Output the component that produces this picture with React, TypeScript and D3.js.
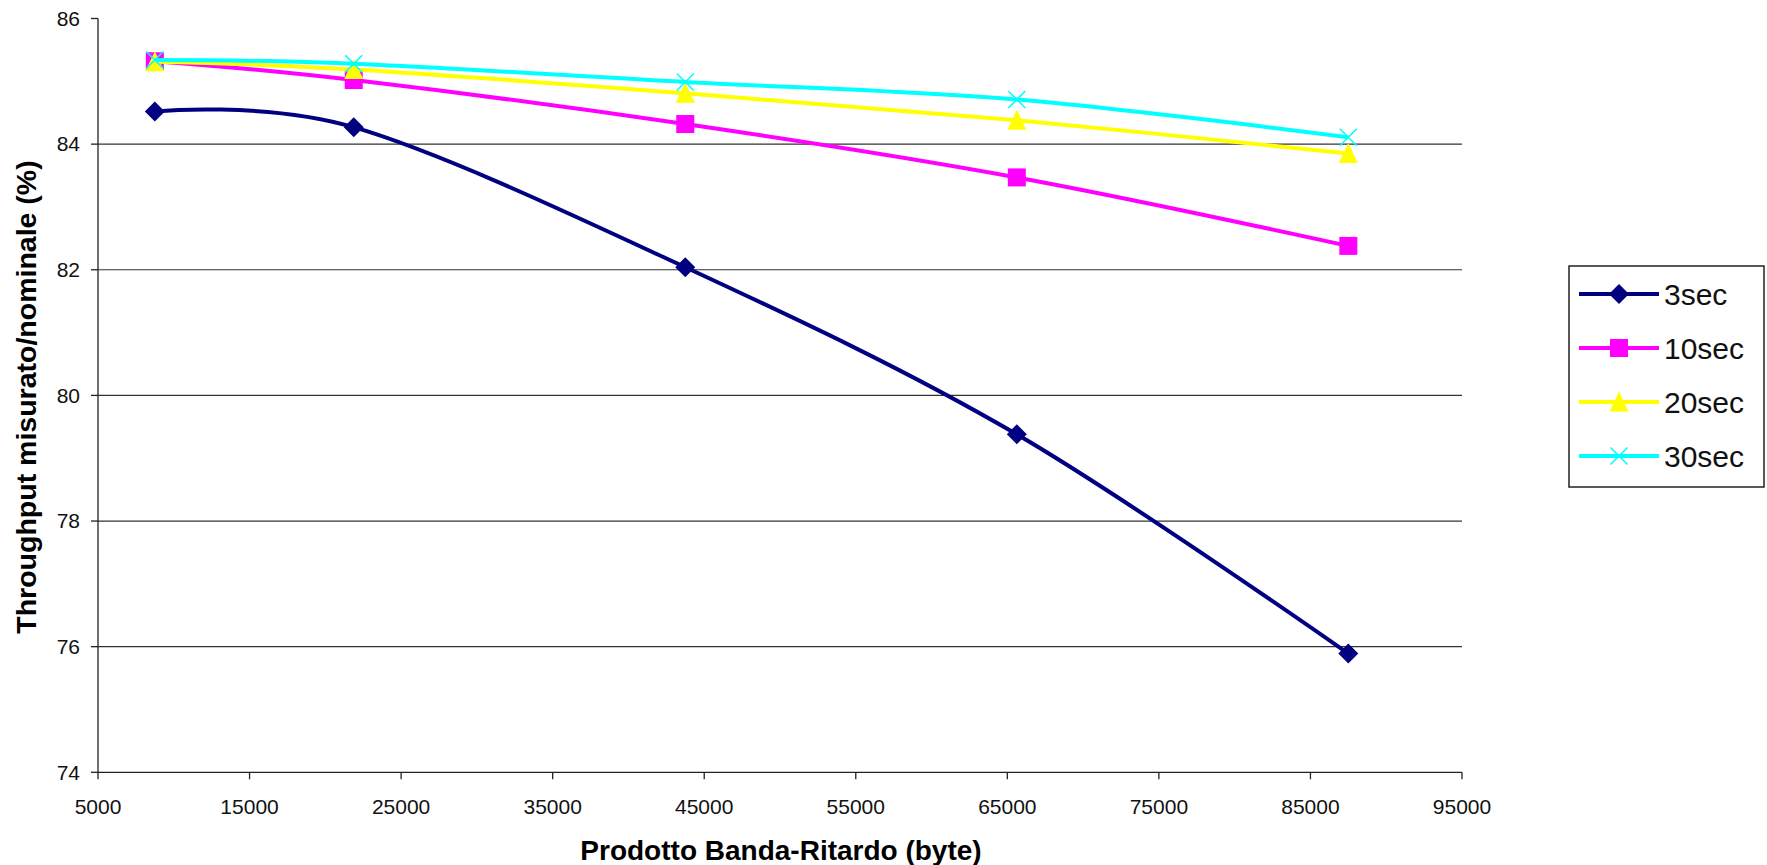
import React from "react";
import * as d3 from "d3";

const xValues = [8750, 21875, 43750, 65625, 87500];
const seriesNames = ["3sec", "10sec", "20sec", "30sec"];
const values3sec = [84.52, 84.27, 82.04, 79.38, 75.89];
const values10sec = [85.32, 85.02, 84.32, 83.47, 82.38];
const values20sec = [85.31, 85.19, 84.81, 84.38, 83.85];
const values30sec = [85.34, 85.28, 84.99, 84.71, 84.11];
const xTicks = [5000, 15000, 25000, 35000, 45000, 55000, 65000, 75000, 85000, 95000];
const yTicks = [74, 76, 78, 80, 82, 84, 86];
const colors = ["#000080", "#FF00FF", "#FFFF00", "#00FFFF"];
const markers = ["diamond", "square", "triangle", "x"];

const W = 1767;
const H = 865;
const FONT = "'Liberation Sans', Arial, sans-serif";

function Marker({ type, cx, cy, color }: { type: string; cx: number; cy: number; color: string }) {
  if (type === "diamond") {
    const r = 10;
    return <path d={`M${cx},${cy - r}L${cx + r},${cy}L${cx},${cy + r}L${cx - r},${cy}Z`} fill={color} />;
  }
  if (type === "square") {
    const s = 18;
    return <rect x={cx - s / 2} y={cy - s / 2} width={s} height={s} fill={color} />;
  }
  if (type === "triangle") {
    const s = 19;
    return <path d={`M${cx},${cy - s / 2 - 1}L${cx + s / 2},${cy + s / 2}L${cx - s / 2},${cy + s / 2}Z`} fill={color} />;
  }
  const r = 8.5;
  return (
    <path
      d={`M${cx - r},${cy - r}L${cx + r},${cy + r}M${cx + r},${cy - r}L${cx - r},${cy + r}`}
      stroke={color}
      strokeWidth={1.6}
      fill="none"
    />
  );
}

export default function App() {
  const x = d3.scaleLinear().domain([5000, 95000]).range([98, 1462]);
  const y = d3.scaleLinear().domain([74, 86]).range([772.3, 18.5]);
  const allSeries = [values3sec, values10sec, values20sec, values30sec];
  const line = d3
    .line<number>()
    .x((_, i) => x(xValues[i]))
    .y((d) => y(d))
    .curve(d3.curveCardinal.tension(0));

  const legendX = 1569;
  const legendY = 266;
  const legendW = 195;
  const legendH = 221;
  const rowY = [294, 348, 402, 456];

  return (
    <svg
      width={W}
      height={H}
      style={{ position: "absolute", left: 0, top: 0, background: "#fff" }}
      fontFamily={FONT}
    >
      <rect x={0} y={0} width={W} height={H} fill="#fff" />
      {/* gridlines */}
      {yTicks
        .filter((t) => t !== 74 && t !== 86)
        .map((t) => (
          <line key={"g" + t} x1={x(5000)} x2={x(95000)} y1={y(t)} y2={y(t)} stroke="#333" strokeWidth={1.2} />
        ))}
      {/* axes */}
      <line x1={x(5000)} x2={x(5000)} y1={y(86)} y2={y(74)} stroke="#222" strokeWidth={1.3} />
      <line x1={x(5000)} x2={x(95000)} y1={y(74)} y2={y(74)} stroke="#222" strokeWidth={1.3} />
      {yTicks.map((t) => (
        <g key={"yt" + t}>
          <line x1={x(5000) - 7} x2={x(5000)} y1={y(t)} y2={y(t)} stroke="#222" strokeWidth={1.3} />
          <text x={80} y={y(t)} dy="0.35em" textAnchor="end" fontSize={21} fill="#111">
            {t}
          </text>
        </g>
      ))}
      {xTicks.map((t) => (
        <g key={"xt" + t}>
          <line x1={x(t)} x2={x(t)} y1={y(74)} y2={y(74) + 7} stroke="#222" strokeWidth={1.3} />
          <text x={x(t)} y={814} textAnchor="middle" fontSize={21} fill="#111">
            {t}
          </text>
        </g>
      ))}
      {/* axis titles */}
      <text x={781} y={860} textAnchor="middle" fontSize={28} fontWeight="bold" fill="#000">
        Prodotto Banda-Ritardo (byte)
      </text>
      <text
        transform={`translate(36,397) rotate(-90)`}
        textAnchor="middle"
        fontSize={28.5}
        fontWeight="bold"
        fill="#000"
      >
        Throughput misurato/nominale (%)
      </text>
      {/* series */}
      {allSeries.map((vals, si) => (
        <g key={"s" + si}>
          <path d={line(vals) || ""} fill="none" stroke={colors[si]} strokeWidth={4} />
          {vals.map((v, i) => (
            <Marker key={i} type={markers[si]} cx={x(xValues[i])} cy={y(v)} color={colors[si]} />
          ))}
        </g>
      ))}
      {/* legend */}
      <rect x={legendX} y={legendY} width={legendW} height={legendH} fill="#fff" stroke="#222" strokeWidth={1.5} />
      {seriesNames.map((name, i) => (
        <g key={"l" + name}>
          <line x1={1579} x2={1659} y1={rowY[i]} y2={rowY[i]} stroke={colors[i]} strokeWidth={4} />
          <Marker type={markers[i]} cx={1619} cy={rowY[i]} color={colors[i]} />
          <text x={1664} y={rowY[i]} dy="0.36em" fontSize={30} fill="#111">
            {name}
          </text>
        </g>
      ))}
    </svg>
  );
}
